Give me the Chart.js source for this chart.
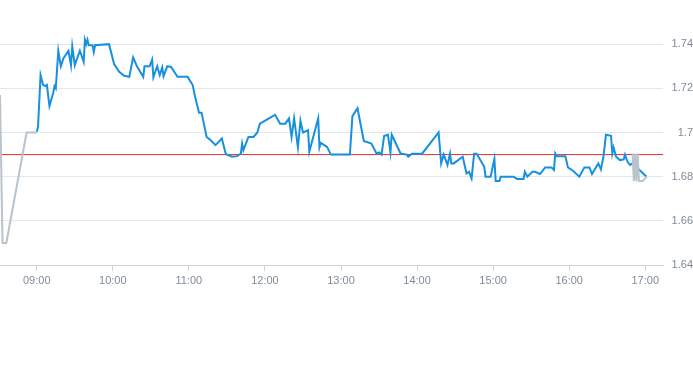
<!DOCTYPE html>
<html>
<head>
<meta charset="utf-8">
<script src="https://cdn.jsdelivr.net/npm/chart.js@4"></script>
<style>
  html, body { margin: 0; padding: 0; background: #fff; }
  #wrap { width: 693px; height: 365px; position: relative; }
</style>
</head>
<body>
<div id="wrap"><canvas id="priceChart"></canvas></div>
<script>
// intraday prices, blue = trading session
let sessionTimes = ['09:00','09:01','09:03','09:05','09:07','09:08','09:10','09:13','09:14','09:15',
    '09:17','09:19','09:21','09:25','09:27','09:28','09:30','09:34','09:37','09:38',
    '09:39','09:40','09:41','09:44','09:45','09:46','09:57','10:01','10:05','10:09',
    '10:13','10:16','10:19','10:24','10:25','10:29','10:31','10:32','10:35','10:37',
    '10:39','10:40','10:43','10:46','10:51','10:59','11:03','11:05','11:08','11:10',
    '11:14','11:17','11:21','11:26','11:29','11:30','11:34','11:38','11:41','11:42',
    '11:43','11:47','11:51','11:54','11:56','12:08','12:12','12:16','12:19','12:21',
    '12:23','12:26','12:28','12:30','12:34','12:35','12:42','12:43','12:44','12:49',
    '12:52','13:07','13:09','13:13','13:18','13:24','13:28','13:30','13:32','13:34',
    '13:37','13:39','13:40','13:47','13:52','13:53','13:56','14:04','14:17','14:19',
    '14:21','14:24','14:26','14:27','14:29','14:36','14:39','14:41','14:43','14:45',
    '14:47','14:53','14:54','14:58','15:01','15:02','15:05','15:06','15:16','15:19',
    '15:24','15:25','15:27','15:31','15:33','15:37','15:41','15:46','15:48','15:49',
    '15:50','15:57','15:59','16:03','16:08','16:12','16:16','16:18','16:23','16:25',
    '16:27','16:29','16:33','16:34','16:35','16:37','16:40','16:43','16:44','16:46',
    '16:48','16:50','16:54','17:01'];
let sessionPrices = [1.7003,1.7026,1.726,1.7215,1.721,1.7215,1.712,1.718,1.721,1.720,
    1.737,1.730,1.7335,1.737,1.7305,1.739,1.7305,1.737,1.732,1.742,
    1.740,1.742,1.7395,1.7395,1.7365,1.7395,1.740,1.731,1.7275,1.7257,
    1.7252,1.734,1.730,1.7252,1.730,1.730,1.733,1.725,1.730,1.726,
    1.7295,1.7255,1.730,1.7297,1.7252,1.7252,1.7215,1.716,1.709,1.709,
    1.698,1.6966,1.6943,1.6973,1.6905,1.690,1.689,1.6893,1.6905,1.695,
    1.692,1.698,1.698,1.700,1.704,1.708,1.704,1.704,1.7064,1.698,
    1.7064,1.6933,1.7053,1.700,1.701,1.6913,1.7064,1.6933,1.6953,1.6935,
    1.690,1.690,1.7074,1.711,1.6962,1.695,1.6905,1.691,1.690,1.6984,
    1.699,1.691,1.699,1.6905,1.690,1.689,1.6904,1.6904,1.700,1.686,
    1.690,1.6853,1.6905,1.686,1.686,1.689,1.6815,1.6822,1.6792,1.6904,
    1.6904,1.6845,1.680,1.680,1.688,1.678,1.678,1.680,1.680,1.679,
    1.679,1.6822,1.680,1.6822,1.6822,1.6812,1.6842,1.6842,1.683,1.6905,
    1.6893,1.6893,1.6842,1.6827,1.680,1.6842,1.6842,1.6812,1.686,1.6833,
    1.689,1.699,1.6985,1.6905,1.6932,1.689,1.6875,1.6878,1.690,1.6867,
    1.6853,1.686,1.6838,1.680];

// grey = opening / closing auction
let auctionTimes = ['08:31','08:33','08:36','08:52','09:00', null,
    '16:50','16:51','16:52','16:53','16:54','16:55','16:58','17:01'];
let auctionPrices = [1.717,1.65,1.65,1.70,1.70, null,
    1.6905,1.678,1.6905,1.678,1.6905,1.678,1.678,1.680];

let referencePrice = 1.69;

let xTickLabels = ['09:00','10:00','11:00','12:00','13:00','14:00','15:00','16:00','17:00'];
let yTickValues = [1.64, 1.66, 1.68, 1.70, 1.72, 1.74];
let xStart = '08:31';
let xEnd = '17:14';
let yMin = 1.64;
let yMax = 1.76;

function toMinutes(t) {
    let parts = t.split(':');
    return parseInt(parts[0]) * 60 + parseInt(parts[1]);
}

function toLabel(m) {
    let h = Math.floor(m / 60);
    let mm = m % 60;
    return (h < 10 ? '0' : '') + h + ':' + (mm < 10 ? '0' : '') + mm;
}

function makePoints(times, prices) {
    let points = [];
    for (let i = 0; i < times.length; i++) {
        if (times[i] === null) {
            points.push({ x: null, y: null });
        } else {
            points.push({ x: toMinutes(times[i]), y: prices[i] });
        }
    }
    return points;
}

Chart.defaults.font.family = '"Liberation Sans", Arial, sans-serif';
Chart.defaults.font.size = 11;
Chart.defaults.color = '#7f8a98';

let ctx = document.getElementById('priceChart').getContext('2d');

let priceChart = new Chart(ctx, {
    type: 'line',
    data: {
        datasets: [{
            label: 'Auction',
            data: makePoints(auctionTimes, auctionPrices),
            borderColor: '#b9c3cb',
            borderWidth: 2,
            pointRadius: 0,
            tension: 0,
            spanGaps: false
        }, {
            label: 'Price',
            data: makePoints(sessionTimes, sessionPrices),
            borderColor: '#1790e0',
            borderWidth: 2,
            pointRadius: 0,
            tension: 0
        }, {
            label: 'Reference',
            data: [
                { x: toMinutes(xStart), y: referencePrice },
                { x: toMinutes(xEnd), y: referencePrice }
            ],
            borderColor: '#e0322b',
            borderWidth: 1,
            pointRadius: 0
        }]
    },
    options: {
        responsive: true,
        maintainAspectRatio: false,
        animation: false,
        layout: { padding: { bottom: 70 } },
        plugins: {
            legend: { display: false },
            tooltip: { enabled: false }
        },
        scales: {
            x: {
                type: 'linear',
                min: toMinutes(xStart),
                max: toMinutes(xEnd),
                afterBuildTicks: (scale) => {
                    scale.ticks = xTickLabels.map(t => ({ value: toMinutes(t) }));
                },
                afterFit: (scale) => {
                    scale.height = 30;
                    scale.paddingLeft = 0;
                    scale.paddingRight = 0;
                },
                ticks: {
                    padding: 3,
                    maxRotation: 0,
                    callback: (v) => toLabel(v)
                },
                grid: {
                    drawOnChartArea: false,
                    drawTicks: true,
                    tickLength: 6,
                    color: '#ccd3da'
                },
                border: { color: '#ccd3da' }
            },
            y: {
                position: 'right',
                min: yMin,
                max: yMax,
                afterBuildTicks: (scale) => {
                    scale.ticks = yTickValues.map(v => ({ value: v }));
                },
                afterFit: (scale) => {
                    scale.width = 30;
                    // top label sits well inside the area, no extra room needed
                    scale.paddingTop = 0;
                    scale.paddingBottom = 0;
                },
                ticks: {
                    crossAlign: 'far',
                    callback: (v) => String(parseFloat(v.toFixed(2)))
                },
                grid: {
                    drawTicks: false,
                    color: '#e3e6ea'
                },
                border: { display: false }
            }
        }
    }
});
</script>
</body>
</html>
